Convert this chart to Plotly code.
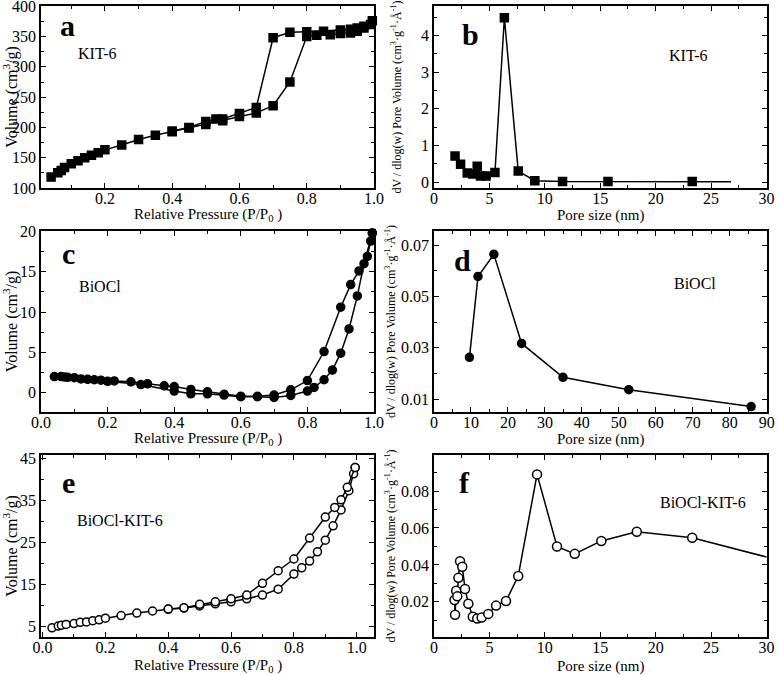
import plotly.graph_objects as go

# ---------------- data ----------------
# (a) KIT-6 isotherm
a_ads_p = [0.04, 0.06, 0.07, 0.08, 0.10, 0.12, 0.14, 0.16, 0.18, 0.20, 0.25, 0.30, 0.35, 0.40, 0.45, 0.50, 0.55,
           0.60, 0.65, 0.70, 0.75, 0.80, 0.83, 0.87, 0.90, 0.93, 0.95, 0.97, 0.99]
a_ads_v = [118, 125, 129, 134, 140, 145, 150, 154, 158, 163, 171, 180, 187, 193, 199, 205, 211,
           218, 224, 236, 275, 350, 352, 353, 355, 356, 359, 364, 370]
a_des_p = [0.995, 0.97, 0.95, 0.93, 0.90, 0.85, 0.80, 0.75, 0.70, 0.65, 0.60, 0.55, 0.53, 0.50, 0.45, 0.40]
a_des_v = [376, 367, 364, 362, 361, 359, 358, 357, 348, 233, 223, 214, 214, 210, 200, 194]

# (b) KIT-6 pore size distribution
b_size = [1.9, 2.4, 3.0, 3.5, 3.9, 4.2, 4.7, 5.5, 6.35, 7.6, 9.1, 11.6, 15.7, 23.3, 26.8]
b_dv = [0.71, 0.49, 0.25, 0.22, 0.43, 0.17, 0.17, 0.26, 4.48, 0.30, 0.04, 0.02, 0.02, 0.02, 0.01]

# (c) BiOCl isotherm
c_ads_p = [0.04, 0.06, 0.07, 0.08, 0.10, 0.12, 0.14, 0.16, 0.18, 0.20, 0.30, 0.40, 0.45, 0.50, 0.55, 0.60,
           0.65, 0.70, 0.75, 0.80, 0.82, 0.85, 0.875, 0.90, 0.925, 0.95, 0.97, 0.99, 0.995]
c_ads_v = [2.0, 2.0, 1.95, 1.9, 1.85, 1.7, 1.65, 1.6, 1.55, 1.4, 1.0, 0.2, -0.15, -0.15, -0.3, -0.5,
           -0.5, -0.6, -0.35, 0.2, 0.65, 1.6, 2.8, 4.9, 7.9, 12.0, 16.0, 18.8, 19.8]
c_des_p = [0.995, 0.98, 0.955, 0.93, 0.90, 0.85, 0.80, 0.75, 0.70, 0.65, 0.60, 0.55, 0.50, 0.45, 0.40,
           0.37, 0.32, 0.27, 0.22]
c_des_v = [19.8, 16.9, 15.1, 13.4, 10.6, 5.1, 1.5, 0.35, -0.3, -0.45, -0.45, -0.2, 0.1, 0.4, 0.75,
           0.85, 1.1, 1.35, 1.45]

# (d) BiOCl pore size distribution
d_size = [9.6, 11.9, 16.2, 23.7, 34.9, 52.7, 85.8]
d_dv = [0.0263, 0.0578, 0.0664, 0.0317, 0.0185, 0.0137, 0.0071]

# (e) BiOCl-KIT-6 isotherm
e_ads_p = [0.03, 0.05, 0.06, 0.075, 0.10, 0.12, 0.14, 0.16, 0.18, 0.20, 0.25, 0.30, 0.35, 0.40, 0.45, 0.50,
           0.55, 0.60, 0.65, 0.70, 0.75, 0.80, 0.825, 0.85, 0.875, 0.90, 0.925, 0.95, 0.975, 0.99, 0.995]
e_ads_v = [4.6, 5.0, 5.2, 5.4, 5.6, 5.9, 6.0, 6.3, 6.5, 6.9, 7.5, 8.1, 8.6, 9.0, 9.3, 9.8,
           10.3, 10.8, 11.5, 12.4, 13.8, 17.4, 18.9, 20.5, 22.7, 25.5, 28.9, 32.7, 37.3, 41.3, 42.8]
e_des_p = [0.995, 0.97, 0.95, 0.93, 0.90, 0.85, 0.80, 0.75, 0.70, 0.65, 0.60, 0.55, 0.50, 0.45, 0.40]
e_des_v = [42.8, 38.1, 35.1, 33.3, 31.0, 26.0, 21.0, 18.2, 15.2, 12.4, 11.5, 10.8, 10.2, 9.4, 9.1]

# (f) BiOCl-KIT-6 pore size distribution
f_size = [1.85, 1.9, 2.0, 2.1, 2.2, 2.35, 2.55, 2.8, 3.1, 3.5, 3.9, 4.3, 4.9, 5.6, 6.5, 7.6, 9.3,
          11.1, 12.7, 15.1, 18.3, 23.3, 30.0]
f_dv = [0.021, 0.013, 0.026, 0.023, 0.033, 0.042, 0.039, 0.027, 0.019, 0.012, 0.011, 0.0115, 0.0135,
        0.018, 0.0205, 0.034, 0.089, 0.050, 0.046, 0.053, 0.058, 0.0547, 0.0443]

panel_letters = ["a", "b", "c", "d", "e", "f"]
sample_names = ["KIT-6", "KIT-6", "BiOCl", "BiOCl", "BiOCl-KIT-6", "BiOCl-KIT-6"]

# ---------------- layout helpers ----------------
W, H = 777, 675
FONT = "Times New Roman, Liberation Serif, DejaVu Serif, serif"

def px(x):
    return x / W

def py(y):
    return 1 - y / H

cols = [(41, 374), (434, 767)]
rows = [(6, 188), (231, 412), (455, 637)]
xtitle_y = [215, 439, 666]

fig = go.Figure()

def line_trace(x, y, ax, symbol, filled, sizes=None):
    n = len(x)
    msize = sizes if sizes is not None else [8] * n
    return go.Scatter(
        x=x, y=y, xaxis="x" + ax, yaxis="y" + ax, mode="lines+markers",
        line=dict(color="black", width=1.5),
        marker=dict(symbol=symbol, size=msize, opacity=1,
                    color="#000000" if filled else "#ffffff",
                    line=dict(color="#000000", width=1.5)),
        opacity=1, showlegend=False, cliponaxis=False, hoverinfo="skip",
    )

fig.add_trace(line_trace(a_ads_p, a_ads_v, "", "square", True))
fig.add_trace(line_trace(a_des_p, a_des_v, "", "square", True))
fig.add_trace(line_trace(b_size, b_dv, "2", "square", True, [8] * (len(b_size) - 1) + [0]))
fig.add_trace(line_trace(c_ads_p, c_ads_v, "3", "circle", True))
fig.add_trace(line_trace(c_des_p, c_des_v, "3", "circle", True))
fig.add_trace(line_trace(d_size, d_dv, "4", "circle", True))
fig.add_trace(line_trace(e_ads_p, e_ads_v, "5", "circle", False))
fig.add_trace(line_trace(e_des_p, e_des_v, "5", "circle", False))
fig.add_trace(line_trace(f_size, f_dv, "6", "circle", False, [9] * (len(f_size) - 1) + [0]))

rel_title = "Relative Pressure (P/P<sub>0</sub> )"
vol_title = "Volume (cm<sup>3</sup>/g)"
psd_title = "dV / dlog(w) Pore Volume (cm<sup>3</sup>·g<sup>-1</sup>·Å<sup>-1</sup>)"
pore_title = "Pore size (nm)"

axis_specs = [
    # (x range, x dtick, x minor, x fmt, x title, y range, y dtick, y tick0, y minor, y fmt, y title)
    ([0.01, 1.0], 0.2, 0.1, ".1f", rel_title, [100, 400.5], 50, 0, 25, "d", vol_title),
    ([0, 30.05], 5, 2.5, "d", pore_title, [-0.16, 4.8], 1, 0, 0.5, "d", psd_title),
    ([0, 1.0], 0.2, 0.1, ".1f", rel_title, [-2.4, 20.05], 5, 0, 2.5, "d", vol_title),
    ([0, 90.1], 10, 5, "d", pore_title, [0.005, 0.0755], 0.02, 0.01, 0.01, ".2f", psd_title),
    ([-0.005, 1.055], 0.2, 0.1, ".1f", rel_title, [2.4, 45.8], 10, 5, 5, "d", vol_title),
    ([0, 30.05], 5, 2.5, "d", pore_title, [0.001, 0.0995], 0.02, 0, 0.01, ".2f", psd_title),
]
ytitle_standoff = [2, 17, 2, 3, 2, 3]

layout = dict(
    width=W, height=H, autosize=False,
    margin=dict(l=0, r=0, t=0, b=0, pad=0),
    paper_bgcolor="white", plot_bgcolor="white",
    font=dict(family=FONT, color="black", size=15),
    showlegend=False,
)

annotations = []
for i, spec in enumerate(axis_specs):
    r, c = divmod(i, 2)
    x0, x1 = cols[c]
    y0, y1 = rows[r]
    suf = "" if i == 0 else str(i + 1)
    xr, xd, xm, xf, xt, yr, yd, yt0, ym, yf, yt = spec
    common = dict(
        showline=True, linecolor="black", linewidth=1.5, mirror="allticks",
        ticks="inside", ticklen=5, tickwidth=1.2, tickcolor="black",
        showgrid=False, zeroline=False, automargin=False, ticklabeloverflow="allow",
        tickfont=dict(family=FONT, size=16, color="black"),
    )
    layout["xaxis" + suf] = dict(
        common, domain=[px(x0), px(x1)], anchor="y" + suf, range=xr,
        dtick=xd, tick0=0, tickformat=xf, ticklabelstandoff=-5,
        minor=dict(dtick=xm, ticks="inside", ticklen=3, tickcolor="black", showgrid=False),
    )
    ytitle_size = 16 if c == 0 else 12
    layout["yaxis" + suf] = dict(
        common, domain=[py(y1), py(y0)], anchor="x" + suf, range=yr,
        dtick=yd, tick0=yt0, tickformat=yf,
        minor=dict(dtick=ym, ticks="inside", ticklen=3, tickcolor="black", showgrid=False),
        title=dict(text=yt, font=dict(family=FONT, size=ytitle_size), standoff=ytitle_standoff[i]),
    )
    # x-axis title placed under the panel
    annotations.append(dict(x=0.5, y=py(xtitle_y[r]), xref="x%s domain" % suf, yref="paper",
                            xanchor="center", yanchor="middle", text=xt, showarrow=False,
                            font=dict(family=FONT, size=15, color="black")))

letter_pos = [(67, 26), (470, 35), (68, 253), (462, 260), (68, 482), (464, 483)]
name_pos = [(97, 53), (688, 55), (100, 287), (695, 283), (120, 520), (703, 502)]
for i in range(6):
    lx, ly = letter_pos[i]
    annotations.append(dict(x=px(lx), y=py(ly), xref="paper", yref="paper", xanchor="center", yanchor="middle",
                            text="<b>%s</b>" % panel_letters[i],
                            showarrow=False, font=dict(family=FONT, size=30, color="black")))
    nx, ny = name_pos[i]
    annotations.append(dict(x=px(nx), y=py(ny), xref="paper", yref="paper", xanchor="center", yanchor="middle",
                            text=sample_names[i],
                            showarrow=False, font=dict(family=FONT, size=16, color="black")))
layout["annotations"] = annotations

fig.update_layout(**layout)
fig.write_html("out.html", config={"displayModeBar": False},
               post_script="document.body.style.margin='0px';document.body.style.padding='0px';")
